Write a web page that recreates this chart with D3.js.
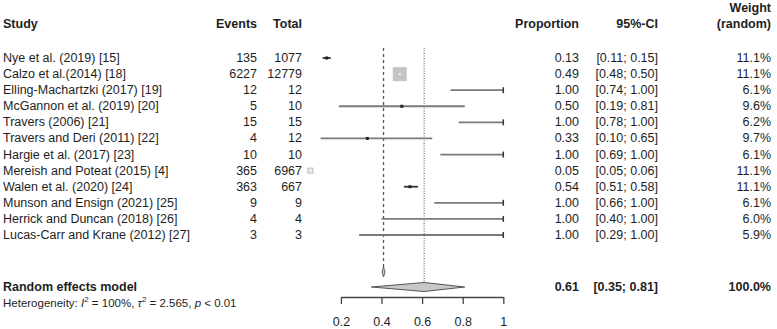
<!DOCTYPE html>
<html>
<head>
<meta charset="utf-8">
<script src="https://cdn.jsdelivr.net/npm/d3@7"></script>
<style>
  body { margin: 0; background: #fff; }
  text { font-family: "Liberation Sans", Arial, sans-serif; fill: #1e1e1e; }
</style>
</head>
<body>
<div id="canvas"></div>
<script>
"use strict"
let svgWidth = 777;
let svgHeight = 329;

// study rows
let studies = [
    "Nye et al. (2019) [15]",
    "Calzo et al.(2014) [18]",
    "Elling-Machartzki (2017) [19]",
    "McGannon et al. (2019) [20]",
    "Travers (2006) [21]",
    "Travers and Deri (2011) [22]",
    "Hargie et al. (2017) [23]",
    "Mereish and Poteat (2015) [4]",
    "Walen et al. (2020) [24]",
    "Munson and Ensign (2021) [25]",
    "Herrick and Duncan (2018) [26]",
    "Lucas-Carr and Krane (2012) [27]"
];
let events = [135, 6227, 12, 5, 15, 4, 10, 365, 363, 9, 4, 3];
let totals = [1077, 12779, 12, 10, 15, 12, 10, 6967, 667, 9, 4, 3];
let proportions = [0.13, 0.49, 1.00, 0.50, 1.00, 0.33, 1.00, 0.05, 0.54, 1.00, 1.00, 1.00];
let ciLower = [0.11, 0.48, 0.74, 0.19, 0.78, 0.10, 0.69, 0.05, 0.51, 0.66, 0.40, 0.29];
let ciUpper = [0.15, 0.50, 1.00, 0.81, 1.00, 0.65, 1.00, 0.06, 0.58, 1.00, 1.00, 1.00];
let weights = [11.1, 11.1, 6.1, 9.6, 6.2, 9.7, 6.1, 11.1, 11.1, 6.1, 6.0, 5.9];

// pooled results
let randomEstimate = 0.61;
let randomLower = 0.35;
let randomUpper = 0.81;
let commonEstimate = 0.41;
let xTicks = [0.2, 0.4, 0.6, 0.8, 1];

let svg = d3.select("#canvas")
    .append("svg")
    .attr("width", svgWidth)
    .attr("height", svgHeight);

// scales
let xScale = d3.scaleLinear()
    .domain([0, 1])
    .range([300.3, 503.3]);

let yScale = d3.scalePoint()
    .domain(studies)
    .range([58, 235]);

let fmt2 = d3.format(".2f");
let headerY = 24;
let pooledY = 287;
let axisY = 297;

// helper for table text
function addText(x, y, str, anchor, bold) {
    return svg.append("text")
        .attr("x", x)
        .attr("y", y)
        .attr("text-anchor", anchor)
        .attr("dominant-baseline", "central")
        .attr("font-size", "12.5px")
        .attr("font-weight", bold ? "bold" : "normal")
        .text(str);
}

// column headers
addText(3, headerY, "Study", "start", true);
addText(257, headerY, "Events", "end", true);
addText(302, headerY, "Total", "end", true);
addText(579, headerY, "Proportion", "end", true);
addText(658, headerY, "95%-CI", "end", true);
addText(771, headerY - 16, "Weight", "end", true);
addText(771, headerY, "(random)", "end", true);

// study rows text
studies.forEach(function(s, i) {
    let y = yScale(s);
    addText(3, y, s, "start", false);
    addText(257, y, events[i], "end", false);
    addText(302, y, totals[i], "end", false);
    addText(579, y, fmt2(proportions[i]), "end", false);
    addText(658, y, "[" + fmt2(ciLower[i]) + "; " + fmt2(ciUpper[i]) + "]", "end", false);
    addText(771, y, weights[i].toFixed(1) + "%", "end", false);
});

// pooled row text
addText(3, pooledY, "Random effects model", "start", true);
addText(579, pooledY, fmt2(randomEstimate), "end", true);
addText(658, pooledY, "[" + fmt2(randomLower) + "; " + fmt2(randomUpper) + "]", "end", true);
addText(771, pooledY, "100.0%", "end", true);

let het = svg.append("text")
    .attr("x", 3)
    .attr("y", 303)
    .attr("dominant-baseline", "central")
    .attr("font-size", "11.5px")
    .attr("fill", "#333");
het.append("tspan").text("Heterogeneity: ");
het.append("tspan").attr("font-style", "italic").text("I");
het.append("tspan").attr("font-size", "8px").attr("dy", -4).text("2");
het.append("tspan").attr("dy", 4).text(" = 100%, ");
het.append("tspan").attr("font-style", "italic").text("\u03c4");
het.append("tspan").attr("font-size", "8px").attr("dy", -4).text("2");
het.append("tspan").attr("dy", 4).text(" = 2.565, ");
het.append("tspan").attr("font-style", "italic").text("p");
het.append("tspan").text(" < 0.01");

// reference lines: common (dashed) and random (dotted)
svg.append("line")
    .attr("x1", xScale(commonEstimate))
    .attr("x2", xScale(commonEstimate))
    .attr("y1", 48)
    .attr("y2", 268)
    .attr("stroke", "#555")
    .attr("stroke-width", 1.3)
    .attr("stroke-dasharray", "3,3");

svg.append("line")
    .attr("x1", xScale(randomEstimate))
    .attr("x2", xScale(randomEstimate))
    .attr("y1", 48)
    .attr("y2", pooledY)
    .attr("stroke", "#555")
    .attr("stroke-width", 1)
    .attr("stroke-dasharray", "1,1.5");

// confidence interval lines
studies.forEach(function(s, i) {
    let y = yScale(s);
    svg.append("line")
        .attr("x1", xScale(ciLower[i]))
        .attr("x2", xScale(ciUpper[i]))
        .attr("y1", y)
        .attr("y2", y)
        .attr("stroke", i === 0 || i === 8 ? "#333" : "#7a7a7a")
        .attr("stroke-width", 1.8);
    // small end mark where interval reaches the upper limit
    if (ciUpper[i] >= 1) {
        svg.append("line")
            .attr("x1", xScale(ciUpper[i]))
            .attr("x2", xScale(ciUpper[i]))
            .attr("y1", y - 3)
            .attr("y2", y + 3)
            .attr("stroke", "#333")
            .attr("stroke-width", 1.5);
    }
});

// study point estimates
studies.forEach(function(s, i) {
    let x = xScale(proportions[i]);
    let y = yScale(s);
    if (i === 1) {
        svg.append("rect")
            .attr("x", x - 7)
            .attr("y", y - 7)
            .attr("width", 14)
            .attr("height", 14)
            .attr("fill", "#c4c4c4");
        svg.append("circle")
            .attr("cx", x).attr("cy", y).attr("r", 1.2)
            .attr("fill", "#f2f2f2");
    } else if (i === 7) {
        svg.append("rect")
            .attr("x", x - 2.5)
            .attr("y", y - 2.5)
            .attr("width", 5)
            .attr("height", 5)
            .attr("fill", "#eee")
            .attr("stroke", "#bbb")
            .attr("stroke-width", 1);
    } else if (proportions[i] < 1) {
        svg.append("rect")
            .attr("x", x - 1.5)
            .attr("y", y - 1.5)
            .attr("width", 3)
            .attr("height", 3)
            .attr("fill", "#222");
    }
});

// common effect small diamond
let cx = xScale(commonEstimate);
svg.append("path")
    .attr("d", "M" + (cx - 1.5) + "," + 272 + "L" + cx + "," + 267 + "L" + (cx + 1.5) + "," + 272 + "L" + cx + "," + 277 + "Z")
    .attr("fill", "#ccc")
    .attr("stroke", "#444")
    .attr("stroke-width", 0.8);

// random effects diamond
svg.append("path")
    .attr("d", "M" + xScale(randomLower) + "," + pooledY +
        "L" + xScale(randomEstimate) + "," + (pooledY - 4.5) +
        "L" + xScale(randomUpper) + "," + pooledY +
        "L" + xScale(randomEstimate) + "," + (pooledY + 4.5) + "Z")
    .attr("fill", "#c8c8c8")
    .attr("stroke", "#555")
    .attr("stroke-width", 1);

// x axis
let axisScale = d3.scaleLinear()
    .domain([xTicks[0], xTicks[xTicks.length - 1]])
    .range([xScale(xTicks[0]), xScale(xTicks[xTicks.length - 1])]);

let axisG = svg.append("g")
    .attr("transform", "translate(0," + axisY + ")")
    .call(d3.axisBottom(axisScale)
        .tickValues(xTicks)
        .tickSize(7)
        .tickSizeOuter(0)
        .tickPadding(13)
        .tickFormat(function(d) { return d === 1 ? "1" : d3.format(".1f")(d); }));

axisG.select(".domain").attr("stroke", "#444").attr("stroke-width", 1.3);
axisG.selectAll(".tick line").attr("stroke", "#444").attr("stroke-width", 1.3);
axisG.selectAll(".tick text")
    .attr("font-size", "12.5px")
    .attr("font-family", "Liberation Sans, Arial, sans-serif")
    .attr("fill", "#1e1e1e");
</script>
</body>
</html>
